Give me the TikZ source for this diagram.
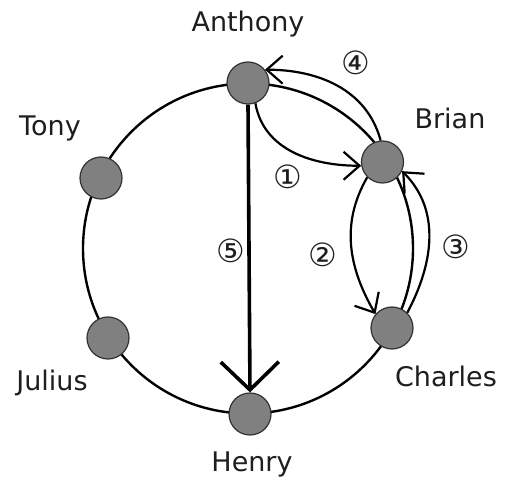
\documentclass[tikz,border=0pt]{standalone}
\usepackage{fontspec}
\setmainfont{DejaVu Sans}
\usetikzlibrary{arrows.meta}
\definecolor{nodegray}{RGB}{128,128,128}
\definecolor{nodeborder}{RGB}{50,50,50}
\definecolor{txt}{RGB}{30,30,30}
\begin{document}
\begin{tikzpicture}[x=1pt,y=-1pt,
  person/.style={circle, minimum size=42pt, inner sep=0pt, fill=nodegray, draw=nodeborder, line width=1.2pt},
  pname/.style={font=\fontsize{27}{30}\selectfont, anchor=base, text=txt, inner sep=0pt},
  num/.style={font=\fontsize{32}{34}\selectfont, text=txt, inner sep=0pt},
  ring/.style={line width=2.4pt},
  arr/.style={line width=2.2pt, -{Straight Barb[length=16pt,width=28pt]}},
  bigarr/.style={line width=3.6pt, -{Straight Barb[length=28pt,width=58pt]}}
]
\useasboundingbox (0,0) rectangle (507,481);
\coordinate (ctr) at (248,248.5);
\draw[ring] (ctr) circle[radius=165];

\node[person] (anthony) at (248,83) {};
\node[person] (henry) at (250,414) {};
\node[person] (tony) at (101,178) {};
\node[person] (julius) at (108,338) {};
\node[person] (brian) at (382.5,162) {};
\node[person] (charles) at (392,328) {};

\node[pname] (lanthony) at (248,32) {Anthony};
\node[pname] (lbrian) at (450,129) {Brian};
\node[pname] (ltony) at (50,136) {Tony};
\node[pname] (ljulius) at (52,391) {Julius};
\node[pname] (lcharles) at (446,387) {Charles};
\node[pname] (lhenry) at (252,472) {Henry};

\draw[arr] (anthony.-70) to[out=-80, in=180] (brian.190);
\draw[arr] (brian.225) to[out=240, in=120] (charles.140);
\draw[arr] (charles.45) to[out=62, in=-45] (brian.-25);
\draw[arr] (brian.95) to[out=105, in=0] (anthony.38);
\draw[bigarr] (anthony.south) -- (henry.north);

\node[num] (n1) at (288,177) {①};
\node[num] (n2) at (323,255) {②};
\node[num] (n3) at (456,247) {③};
\node[num] (n4) at (356,63) {④};
\node[num] (n5) at (231,251) {⑤};
\end{tikzpicture}
\end{document}
